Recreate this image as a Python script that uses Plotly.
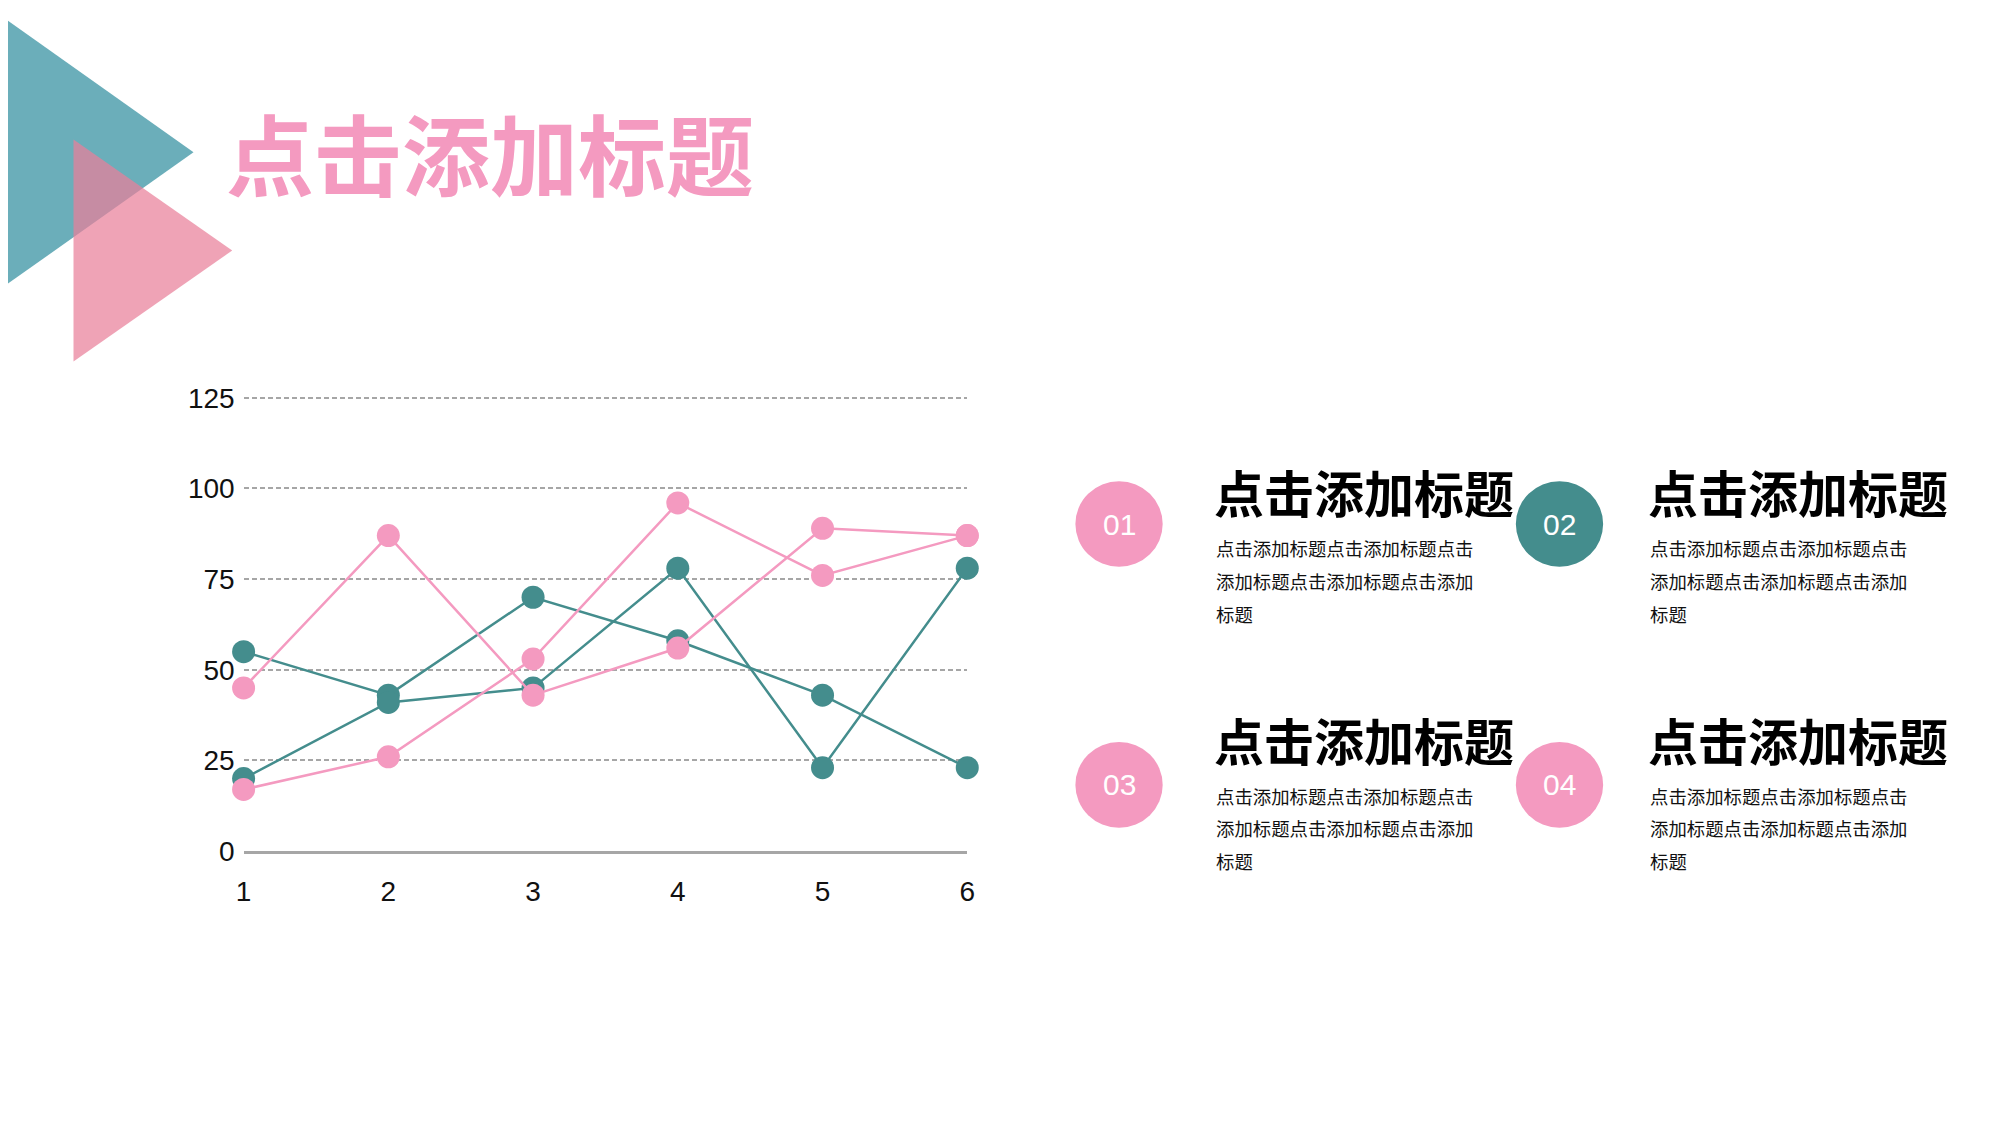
import plotly.graph_objects as go

# chart data
x_vals = [1, 2, 3, 4, 5, 6]
pink_a = [45, 87, 43, 56, 89, 87]
pink_b = [17, 26, 53, 96, 76, 87]
teal_a = [55, 43, 70, 58, 43, 23]
teal_b = [20, 41, 45, 78, 23, 78]
y_ticks = [0, 25, 50, 75, 100, 125]

# text blocks
title_text = '点击添加标题'
item_numbers = ['01', '02', '03', '04']
item_titles = ['点击添加标题', '点击添加标题', '点击添加标题', '点击添加标题']
item_lines = ['点击添加标题点击添加标题点击', '添加标题点击添加标题点击添加', '标题']

W, H = 2000, 1126
PINK = '#F49AC0'
TEAL = '#448D8D'
CJK = 'Noto Sans CJK SC'
LAT = 'Liberation Sans'


def px(x):
    return x / W


def py(y):
    return 1 - y / H


fig = go.Figure()

for vals, col in [(teal_a, TEAL), (teal_b, TEAL), (pink_a, PINK), (pink_b, PINK)]:
    fig.add_trace(go.Scatter(x=x_vals, y=vals, mode='lines+markers',
                             line=dict(color=col, width=2.5),
                             marker=dict(color=col, size=23),
                             cliponaxis=False, hoverinfo='skip'))

shapes = []
# decorative triangles top-left
shapes.append(dict(type='path', xref='paper', yref='paper', layer='below',
                   path='M %f %f L %f %f L %f %f Z' % (px(0), py(7), px(187), py(142), px(0), py(277)),
                   fillcolor='#6BAEBA', line=dict(width=0)))
shapes.append(dict(type='path', xref='paper', yref='paper', layer='below',
                   path='M %f %f L %f %f L %f %f Z' % (px(66), py(129), px(226), py(243), px(66), py(357)),
                   fillcolor='rgba(233,128,154,0.72)', line=dict(width=0)))

annotations = [dict(text='<b>' + title_text + '</b>', x=px(218), y=py(140), xref='paper', yref='paper',
                    xanchor='left', yanchor='middle', showarrow=False,
                    font=dict(family=CJK, size=88, color=PINK))]

circle_cx = [1120, 1564, 1120, 1564]
circle_cy = [524, 524, 792, 792]
circle_col = [PINK, TEAL, PINK, PINK]
text_x = [1217, 1654, 1217, 1654]
head_y = [490, 490, 745, 745]
body_y0 = [549, 549, 803, 803]
r = 44

for i in range(4):
    cx, cy = circle_cx[i], circle_cy[i]
    shapes.append(dict(type='circle', xref='paper', yref='paper',
                       x0=px(cx - r), x1=px(cx + r), y0=py(cy + r), y1=py(cy - r),
                       fillcolor=circle_col[i], line=dict(width=0)))
    annotations.append(dict(text=item_numbers[i], x=px(cx), y=py(cy), xref='paper', yref='paper',
                            xanchor='center', yanchor='middle', showarrow=False,
                            font=dict(family=LAT, size=30, color='white')))
    annotations.append(dict(text='<b>' + item_titles[i] + '</b>', x=px(text_x[i] - 3), y=py(head_y[i]),
                            xref='paper', yref='paper', xanchor='left', yanchor='middle',
                            showarrow=False, font=dict(family=CJK, size=50, color='black')))
    for j, line in enumerate(item_lines):
        annotations.append(dict(text=line, x=px(text_x[i] - 1), y=py(body_y0[i] + j * 33.5),
                                xref='paper', yref='paper', xanchor='left', yanchor='middle',
                                showarrow=False, font=dict(family=CJK, size=18.4, color='#111111')))

y_top = 125.4
fig.update_layout(
    width=W, height=H,
    margin=dict(l=0, r=0, t=0, b=0),
    paper_bgcolor='white', plot_bgcolor='white',
    showlegend=False,
    shapes=shapes,
    annotations=annotations,
    xaxis=dict(domain=[px(237.5), px(967)], range=[1, 6], tickvals=x_vals,
               showgrid=False, zeroline=False, showline=True, linecolor='#A6A6A6', linewidth=2.5,
               ticks='', ticklabelstandoff=14,
               tickfont=dict(family=LAT, size=28, color='#111111')),
    yaxis=dict(domain=[py(860), py(860 - 465.7 * y_top / 125)], range=[0, y_top], tickvals=y_ticks,
               showgrid=True, gridcolor='#A6A6A6', gridwidth=2, griddash='5px,3px',
               zeroline=False, showline=False, ticks='', ticklabelstandoff=8,
               tickfont=dict(family=LAT, size=28, color='#111111')),
)

fig.write_html('out.html', config={'displayModeBar': False},
               post_script="document.body.style.margin='0';document.body.style.overflow='hidden';")
